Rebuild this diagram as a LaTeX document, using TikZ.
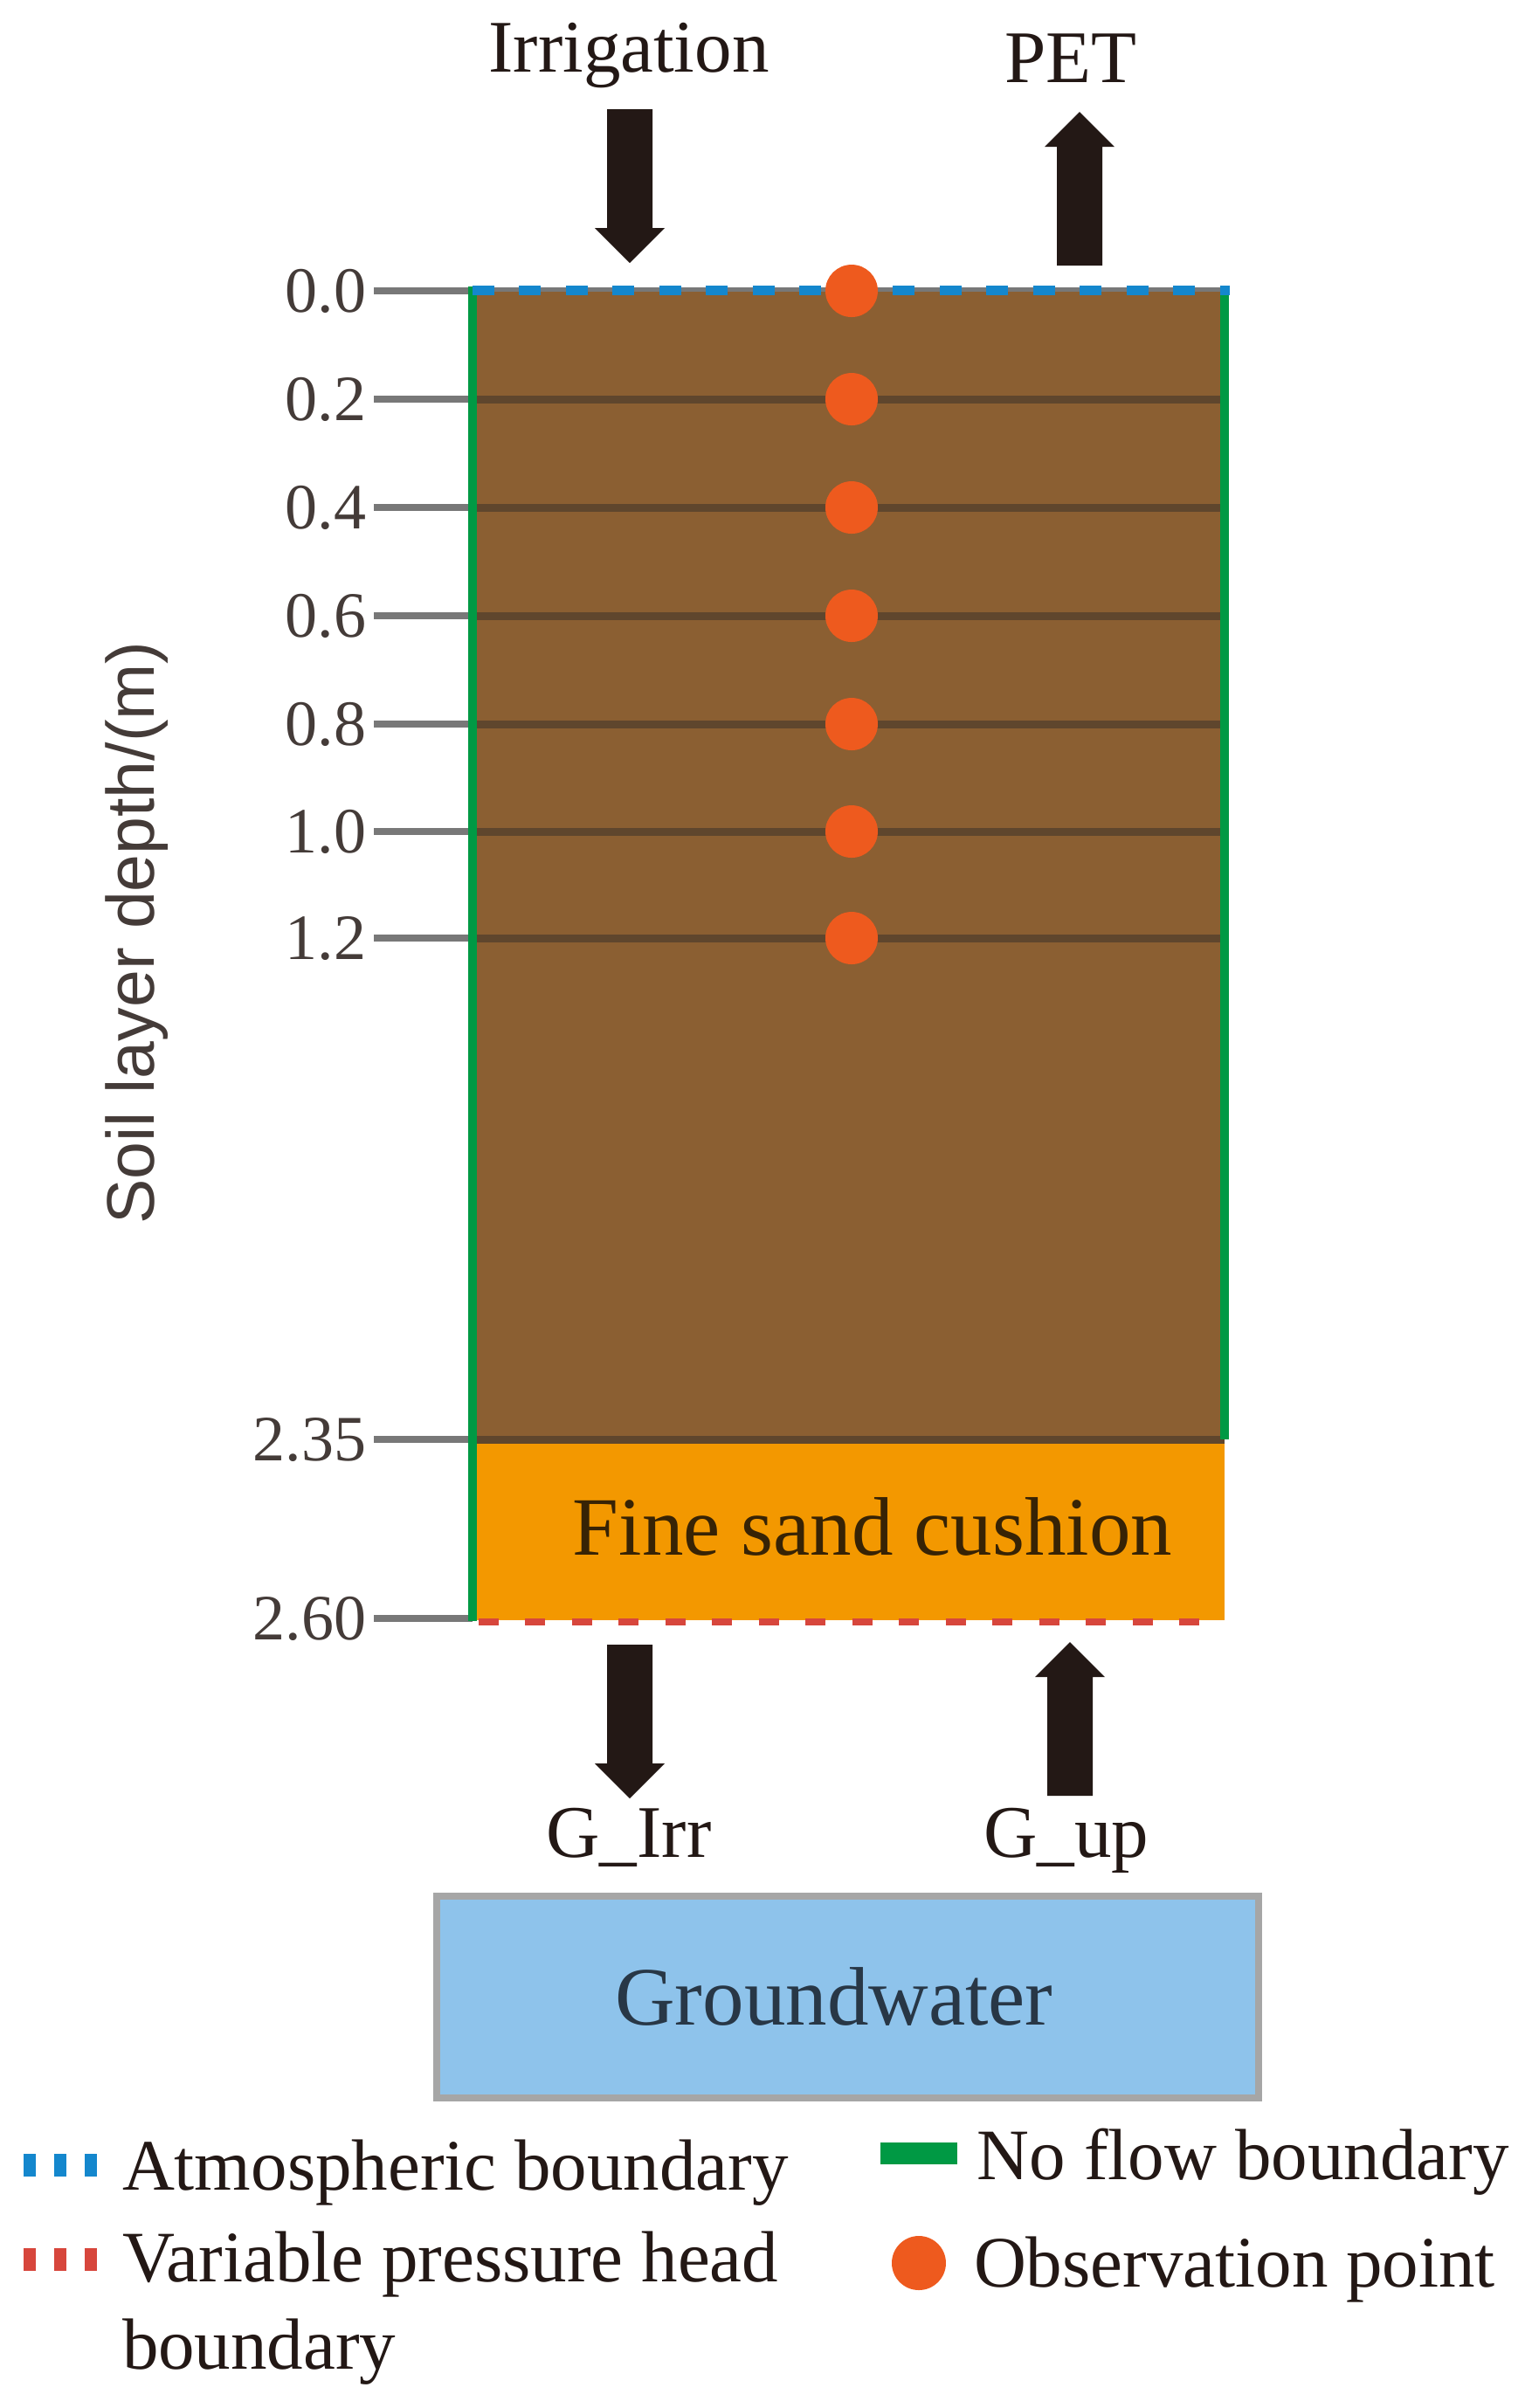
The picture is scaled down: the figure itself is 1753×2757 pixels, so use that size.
\documentclass[tikz,border=0pt]{standalone}
\usepackage{fontspec}
\setmainfont{Liberation Serif}
\newfontfamily\labsans{Liberation Sans}
\definecolor{soil}{RGB}{139,95,50}
\definecolor{sepline}{RGB}{95,70,45}
\definecolor{sand}{RGB}{243,152,0}
\definecolor{nfgreen}{RGB}{0,153,68}
\definecolor{atmblue}{RGB}{20,135,205}
\definecolor{vphred}{RGB}{215,70,60}
\definecolor{obsorange}{RGB}{238,90,30}
\definecolor{gwblue}{RGB}{142,195,235}
\definecolor{gwtext}{RGB}{40,55,70}
\definecolor{inkblack}{RGB}{35,24,21}
\definecolor{tickgray}{RGB}{120,120,120}
\definecolor{sandtext}{RGB}{55,35,5}
\tikzset{
  lbl/.style={font=\fontsize{8.5pt}{10pt}\selectfont, text=inkblack, inner sep=0pt},
  ticklbl/.style={font=\fontsize{7.4pt}{9pt}\selectfont, text=inkblack!85, inner sep=0pt, anchor=east},
  legtxt/.style={font=\fontsize{8.3pt}{10pt}\selectfont, text=inkblack, inner sep=0pt, anchor=base west},
  bigtxt/.style={font=\fontsize{9.5pt}{11pt}\selectfont, inner sep=0pt, anchor=base},
  tickline/.style={draw=tickgray, line width=0.8pt},
  sepl/.style={draw=sepline, line width=0.9pt},
  obsdot/.style={fill=obsorange},
  arrowfill/.style={fill=inkblack},
  downarrow/.pic={\fill[arrowfill] (-26,0) -- (26,0) -- (26,136) -- (40,136) -- (0,176) -- (-40,136) -- (-26,136) -- cycle;},
  uparrow/.pic={\fill[arrowfill] (-26,0) -- (26,0) -- (26,-136) -- (40,-136) -- (0,-176) -- (-40,-136) -- (-26,-136) -- cycle;}
}
\begin{document}
\begin{tikzpicture}[x=0.1pt,y=-0.1pt]
\useasboundingbox (0,0) rectangle (1753,2757);
\fill[white] (0,0) rectangle (1753,2757);

% soil column
\fill[soil] (541,333) rectangle (1402,1648);
\fill[sand] (541,1648) rectangle (1402,1855);

% depth lines and ticks
\foreach \d/\y in {0.0/333,0.2/457,0.4/581,0.6/705,0.8/829,1.0/952,1.2/1074,2.35/1648,2.60/1853}{
  \draw[tickline] (428,\y) -- (541,\y);
  \node[ticklbl] (t\d) at (421,\y) {\d};
}
\foreach \y in {457,581,705,829,952,1074,1648}{
  \draw[sepl] (541,\y) -- (1402,\y);
}

% boundaries
\draw[nfgreen, line width=1pt] (541,328) -- (541,1856);
\draw[nfgreen, line width=1pt] (1402,328) -- (1402,1648);
\draw[tickgray, line width=0.5pt] (541,331) -- (1408,331);
\draw[atmblue, line width=1.1pt, dash pattern=on 2.5pt off 2.85pt] (541,332) -- (1408,332);
\draw[vphred, line width=0.8pt, dash pattern=on 2.3pt off 3.05pt] (548,1857) -- (1402,1857);

% observation points
\foreach \y [count=\i] in {333,457,581,705,829,952,1074}{
  \fill[obsdot] (975,\y) circle (30) coordinate (obs\i);
}

% texts in column
\node[bigtxt, text=sandtext] (sandlbl) at (999,1780) {Fine sand cushion};

% groundwater
\draw[draw=black!35, fill=gwblue, line width=0.8pt] (500,2171) rectangle (1441,2402);
\node[bigtxt, text=gwtext] (gw) at (955,2318) {Groundwater};

% flux arrows and labels
\node[lbl, anchor=base] (irr) at (720,82) {Irrigation};
\node[lbl, anchor=base] (pet) at (1226,94) {PET};
\node[lbl, anchor=base] (girr) at (720,2126) {G\_Irr};
\node[lbl, anchor=base] (gup) at (1221,2126) {G\_up};
\pic at (721,125) {downarrow};
\pic at (1236,304) {uparrow};
\pic at (721,1883) {downarrow};
\pic at (1225,2056) {uparrow};

% axis title
\node[font=\labsans\fontsize{7.7pt}{9pt}\selectfont, text=inkblack!85, inner sep=0pt, anchor=base, rotate=90] (axis) at (177,1068) {Soil layer depth/(m)};

% legend
\draw[atmblue, line width=2.6pt, dash pattern=on 1.4pt off 2.1pt] (27,2479) -- (115,2479);
\node[legtxt] (l1) at (138,2507) {Atmospheric boundary};
\draw[vphred, line width=2.6pt, dash pattern=on 1.4pt off 2.1pt] (27,2587) -- (115,2587);
\node[legtxt] (l2) at (138,2612) {Variable pressure head};
\node[legtxt] (l2b) at (138,2712) {boundary};
\draw[nfgreen, line width=2.5pt] (1008,2465) -- (1096,2465);
\node[legtxt] (l3) at (1117,2495) {No flow boundary};
\fill[obsdot] (1052,2591) circle (31) coordinate (legdot);
\node[legtxt] (l4) at (1113,2618) {Observation point};
\end{tikzpicture}
\end{document}
